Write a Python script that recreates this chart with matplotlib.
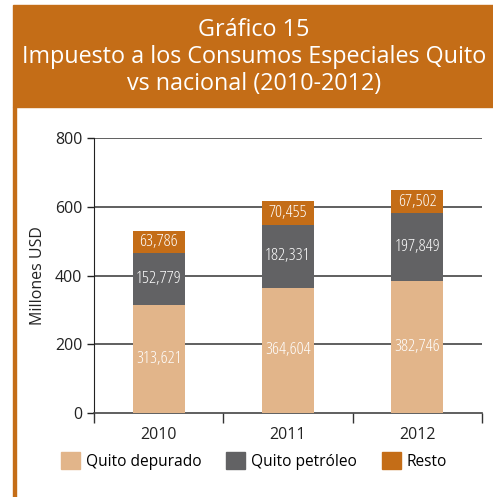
import matplotlib.pyplot as plt
from matplotlib.patches import Rectangle
import numpy as np

plt.rcParams['font.family'] = ['Open Sans', 'DejaVu Sans']

years = ["2010", "2011", "2012"]
quito_depurado = [313.621, 364.604, 382.746]
quito_petroleo = [152.779, 182.331, 197.849]
resto = [63.786, 70.455, 67.502]
series_names = ["Quito depurado", "Quito petróleo", "Resto"]
colors = ["#e2b58a", "#626264", "#c46d17"]
yticks = [0, 200, 400, 600, 800]

W, H = 493, 497
fig = plt.figure(figsize=(W / 100, H / 100), dpi=100)
fig.patch.set_facecolor("white")

# header band + left border
fig.patches.append(Rectangle((13 / W, 1 - 107 / H), 1 - 13 / W, 102 / H,
                             transform=fig.transFigure, color="#c46d17", zorder=0))
fig.patches.append(Rectangle((13 / W, 0), 2.5 / W, 1 - 107 / H,
                             transform=fig.transFigure, color="#c46d17", zorder=0))
fig.text(254 / W, 1 - 30 / H, "Gráfico 15", color="white", fontsize=16.8,
         ha="center", va="center")
fig.text(254 / W, 1 - 57 / H, "Impuesto a los Consumos Especiales Quito", color="white",
         fontsize=16.8, ha="center", va="center")
fig.text(254 / W, 1 - 84 / H, "vs nacional (2010-2012)", color="white", fontsize=16.8,
         ha="center", va="center")

ax = fig.add_axes([94 / W, 1 - 413 / H, (482 - 94) / W, (413 - 138) / H])
x = np.arange(len(years))
bottom = np.zeros(len(years))
for vals, col in zip([quito_depurado, quito_petroleo, resto], colors):
    bars = ax.bar(x, vals, width=0.4, bottom=bottom, color=col, zorder=3)
    for b, v, b0 in zip(bars, vals, bottom):
        ax.text(b.get_x() + b.get_width() / 2, b0 + v / 2, f"{v:.3f}".replace(".", ","),
                ha="center", va="center", color="white", fontsize=12.5,
                fontstretch="condensed", zorder=4)
    bottom += np.array(vals)

ax.set_xlim(-0.5, 2.5)
ax.set_ylim(0, 800)
ax.set_yticks(yticks)
ax.tick_params(axis="y", labelsize=11.5, length=5, width=1, colors="#222222")
ax.set_xticks(x)
ax.set_xticklabels(years, fontsize=11.5, color="#222222")
ax.set_xticks([-0.5, 0.5, 1.5, 2.5], minor=True)
ax.tick_params(axis="x", which="major", length=0, pad=10)
ax.tick_params(axis="x", which="minor", length=7, width=1, color="#333333")
for yv in yticks[1:]:
    ax.axhline(yv, color="#444444", lw=1.2, zorder=1)
for s in ["top", "right"]:
    ax.spines[s].set_visible(False)
ax.spines["left"].set_color("#222222")
ax.spines["bottom"].set_color("#444444")
ax.spines["bottom"].set_linewidth(1.2)
ax.set_ylabel("Millones USD", fontsize=11.5, color="#222222", labelpad=6)

handles = [Rectangle((0, 0), 1, 1, color=c) for c in colors]
fig.legend(handles, series_names, loc="center", bbox_to_anchor=(254 / W, 1 - 461 / H),
           ncol=3, frameon=False, fontsize=11.2, handlelength=1.2, handleheight=1.3,
           columnspacing=1.6, handletextpad=0.4)

fig.savefig("out.png", dpi=100)
